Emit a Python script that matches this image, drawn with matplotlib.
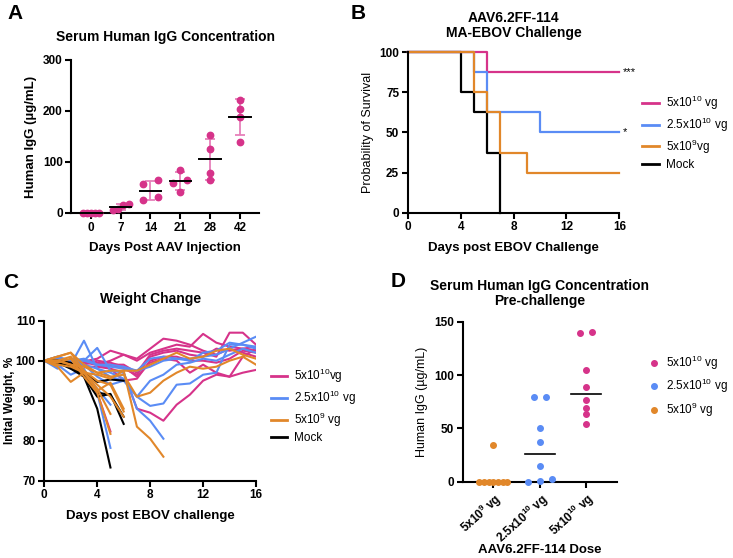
import numpy as np
import matplotlib
matplotlib.use("Agg")
import matplotlib.pyplot as plt
from matplotlib.lines import Line2D

plt.rcParams['font.family'] = ['Liberation Sans', 'DejaVu Sans']
plt.rcParams['mathtext.default'] = 'regular'
plt.rcParams['axes.linewidth'] = 1.5
plt.rcParams['xtick.major.width'] = 1.5
plt.rcParams['ytick.major.width'] = 1.5
plt.rcParams['xtick.major.size'] = 4.3
plt.rcParams['ytick.major.size'] = 4.3
plt.rcParams['xtick.major.pad'] = 2
plt.rcParams['ytick.major.pad'] = 2
plt.rcParams['xtick.labelsize'] = 8.5
plt.rcParams['ytick.labelsize'] = 8.5

PINK = '#D6338A'
PINK_LIGHT = '#E680BA'
BLUE = '#5A8CF5'
ORANGE = '#E1872A'
BLACK = '#000000'

# ---- panel A data
a_days = ['0', '7', '14', '21', '28', '42']
a_vals = [
    [0, 0, 0, 0, 0],
    [5, 17, 8.5, 15],
    [56, 25, 64, 31],
    [64, 85, 41, 59],
    [152, 125, 79, 64],
    [221, 203, 189, 139],
]

# ---- panel B data (survival %)
surv_pink_t = [0, 6, 16]
surv_pink = [100, 87.5, 87.5]
surv_blue_t = [0, 5, 6, 10, 16]
surv_blue = [100, 87.5, 62.5, 50, 50]
surv_orange_t = [0, 5, 6, 7, 9, 16]
surv_orange = [100, 75, 62.5, 37.5, 25, 25]
surv_mock_t = [0, 4, 5, 6, 7]
surv_mock = [100, 75, 62.5, 37.5, 0]

# ---- panel C data (weight % per mouse, day 0..)
w_pink = [
    [100, 100, 99.5, 99.8, 100.5, 102.5, 101.5, 100.5, 103, 105.5, 105, 104, 102.5, 101.5, 103, 102, 101],
    [100, 99, 100, 100, 99, 100, 101.5, 100, 102, 103, 104, 103.5, 106.7, 104.5, 103.5, 103, 102.5],
    [100, 100, 99, 99.5, 99, 98, 97, 88, 87, 85, 89, 91.5, 95, 96.5, 96, 101, 103],
    [100, 99.5, 100, 99, 100, 99.5, 98.5, 96, 99.5, 100.5, 100, 97, 99, 97, 96, 97, 97.7],
    [100, 100.5, 100, 100, 99.5, 99, 99, 97, 101.5, 102.5, 103, 102.5, 102, 101, 107, 107, 104],
    [100, 100, 99.5, 100, 99, 99, 98, 96.5, 101, 102, 102.5, 101.5, 101, 103, 102.5, 103, 103.5],
    [100, 99.5, 99.5, 98.5, 98.5, 98, 95, 95.5, 100, 101, 101, 100, 100, 99.5, 100.5, 102.5, 102],
    [100, 99.5, 100, 97, 92, 82.3],
]
w_blue = [
    [100, 101, 99, 105, 98, 97, 95.5, 91, 88.7, 89.3, 94, 94.3, 96.5, 97, 104, 104, 103.5],
    [100, 98, 100.5, 100, 103.2, 97.5, 97, 88, 85, 80.5],
    [100, 99, 96.5, 98, 92, 78.2],
    [100, 100, 98, 97, 93, 89],
    [100, 101, 100, 100.5, 99, 98.5, 98, 97.5, 98.5, 100, 100.5, 100.5, 101, 101.5, 103, 104.5, 106],
    [100, 99.5, 98.5, 99, 98, 96, 95, 91, 95, 96.5, 99, 99.5, 100.5, 100, 101.5, 103, 102],
    [100, 100.5, 100, 99, 96, 94, 95],
    [100, 99, 99.5, 100, 99, 99, 98.5, 97.5, 100.5, 101, 100.5, 100, 102, 102.5, 104.5, 104, 103],
]
w_orange = [
    [100, 101, 102, 99, 97, 96, 96.5, 91, 92, 95, 97, 98.5, 98, 98.5, 100, 101, 99],
    [100, 100, 99, 98.5, 97, 97.5, 97.5, 97.5, 99, 100.5, 102, 100.5, 101, 102.5, 103, 101.5, 100.5],
    [100, 98.5, 94.7, 97, 96.5, 95.5, 97.5, 83.5, 80.5, 76],
    [100, 100, 101, 97, 93, 86.7],
    [100, 99.5, 100.5, 96, 92, 81.7],
    [100, 101, 102, 97.5, 95, 94, 87.3],
    [100, 100, 99, 97, 92.5, 94.5, 88],
    [100, 99, 98.5, 97, 94, 91, 86],
]
w_mock = [
    [100, 99.5, 98, 96, 88, 73.3],
    [100, 100, 98.5, 97, 94.7, 95.3, 95],
    [100, 99.5, 99, 96, 91, 91.7, 84.2],
    [100, 100, 99, 97, 92, 91.5, 86],
    [100, 99.5, 98.5, 96.5],
    [100, 100, 99.5, 97],
]

# ---- panel D data
d_groups = ['5x10$^9$ vg', '2.5x10$^{10}$ vg', '5x10$^{10}$ vg']
d_orange = [34.4, 0, 0, 0, 0, 0, 0, 0]
d_blue = [79.4, 79.4, 50, 37.2, 14.7, 0, 2.2, 0.6]
d_pink = [139.1, 140.3, 105, 88.75, 76.25, 68.75, 63.1, 54.1]


def swarm(vals, thr, step, half):
    vals = np.asarray(vals, dtype=float)
    order = np.argsort(vals, kind='stable')
    offs = np.zeros(len(vals))
    groups = []
    cur = [order[0]]
    for i in order[1:]:
        if vals[i] - vals[cur[-1]] <= thr:
            cur.append(i)
        else:
            groups.append(cur)
            cur = [i]
    groups.append(cur)
    for g in groups:
        n = len(g)
        if n > 1:
            s = min(step, 2 * half / (n - 1))
            for k, i in enumerate(g):
                offs[i] = (k - (n - 1) / 2) * s
    return offs


def prism(ax):
    ax.spines['top'].set_visible(False)
    ax.spines['right'].set_visible(False)
    for t in ax.get_xticklabels() + ax.get_yticklabels():
        t.set_fontweight('bold')


fig = plt.figure(figsize=(7.33, 5.58), dpi=100)

# ================= A
axA = fig.add_axes([0.0975, 0.6183, 0.2555, 0.2742])
for i, v in enumerate(a_vals):
    v = np.array(v, dtype=float)
    m = v.mean()
    sd = v.std(ddof=1)
    axA.errorbar(i, m, yerr=sd, fmt='none', ecolor=PINK_LIGHT, elinewidth=1.3,
                 capsize=3.5, capthick=1.3, zorder=2, clip_on=False)
    xo = i + swarm(v, 10, 0.47, 0.27)
    axA.plot(xo, v, 'o', color=PINK, markersize=4.6, zorder=3, clip_on=False)
    axA.plot([i - 0.36, i + 0.36], [m, m], color=BLACK, lw=1.4, zorder=4, clip_on=False)
axA.set_xlim(-0.65, 5.63)
axA.set_ylim(0, 300)
axA.set_yticks([0, 100, 200, 300])
axA.set_xticks(range(len(a_days)))
axA.set_xticklabels(a_days)
axA.set_ylabel('Human IgG (µg/mL)', fontsize=9.5, fontweight='bold')
axA.set_xlabel('Days Post AAV Injection', fontsize=9.5, fontweight='bold', labelpad=6)
axA.set_title('Serum Human IgG Concentration', fontsize=10, fontweight='bold', pad=14)
prism(axA)

# ================= B
axB = fig.add_axes([0.5566, 0.6188, 0.2883, 0.2875])
axB.plot(surv_mock_t, surv_mock, drawstyle='steps-post', color=BLACK, lw=1.6, clip_on=False)
axB.plot(surv_pink_t, surv_pink, drawstyle='steps-post', color=PINK, lw=1.6, clip_on=False)
axB.plot(surv_blue_t, surv_blue, drawstyle='steps-post', color=BLUE, lw=1.6, clip_on=False)
axB.plot(surv_orange_t, surv_orange, drawstyle='steps-post', color=ORANGE, lw=1.6, clip_on=False)
axB.text(16.3, surv_pink[-1], '***', fontsize=8, va='center')
axB.text(16.3, surv_blue[-1], '*', fontsize=8, va='center')
axB.set_xlim(0, 16)
axB.set_ylim(0, 100)
axB.set_xticks([0, 4, 8, 12, 16])
axB.set_yticks([0, 25, 50, 75, 100])
axB.set_ylabel('Probability of Survival', fontsize=9)
axB.set_xlabel('Days post EBOV Challenge', fontsize=9.5, fontweight='bold', labelpad=6)
axB.set_title('AAV6.2FF-114\nMA-EBOV Challenge', fontsize=10, fontweight='bold', pad=11,
              linespacing=1.1)
prism(axB)
leg_labels = ['5x10$^{10}$ vg', '2.5x10$^{10}$ vg', '5x10$^9$vg', 'Mock']
handles = [Line2D([], [], color=c, lw=2) for c in [PINK, BLUE, ORANGE, BLACK]]
axB.legend(handles, leg_labels, loc='upper left', bbox_to_anchor=(1.085, 0.77), frameon=False,
           prop={'size': 8.5}, handlelength=1.4, handletextpad=0.65,
           labelspacing=0.3, borderaxespad=0)

# ================= C
axC = fig.add_axes([0.0604, 0.1385, 0.2889, 0.2868])
for grp, col in [(w_pink, PINK), (w_blue, BLUE), (w_mock, BLACK), (w_orange, ORANGE)]:
    for w in grp:
        axC.plot(np.arange(len(w)), w, color=col, lw=1.5)
axC.set_xlim(0, 16)
axC.set_ylim(70, 110)
axC.set_xticks([0, 4, 8, 12, 16])
axC.set_yticks([70, 80, 90, 100, 110])
axC.set_ylabel('Inital Weight, %', fontsize=8.5, fontweight='bold')
axC.yaxis.set_label_coords(-0.135, 0.5)
axC.set_xlabel('Days post EBOV challenge', fontsize=9.5, fontweight='bold', labelpad=6)
axC.set_title('Weight Change', fontsize=10, fontweight='bold', pad=13)
prism(axC)
leg_labels_c = ['5x10$^{10}$vg', '2.5x10$^{10}$ vg', '5x10$^9$ vg', 'Mock']
axC.legend(handles, leg_labels_c, loc='upper left', bbox_to_anchor=(1.05, 0.74), frameon=False,
           prop={'size': 8.5}, handlelength=1.3, handletextpad=0.65,
           labelspacing=0.3, borderaxespad=0)

# ================= D
axD = fig.add_axes([0.6312, 0.1367, 0.2105, 0.2868])
for i, (v, col) in enumerate([(d_orange, ORANGE), (d_blue, BLUE), (d_pink, PINK)]):
    v = np.array(v, dtype=float)
    xo = i + swarm(v, 4, 0.26, 0.30)
    axD.plot(xo, v, 'o', color=col, markersize=4, zorder=3, clip_on=False)
    med = np.median(v)
    axD.plot([i - 0.32, i + 0.32], [med, med], color=BLACK, lw=1.2, zorder=2, clip_on=False)
axD.set_xlim(-0.66, 2.66)
axD.set_ylim(0, 150)
axD.set_yticks([0, 50, 100, 150])
axD.set_xticks(range(3))
axD.set_xticklabels(d_groups, rotation=42, ha='right', rotation_mode='anchor')
axD.set_ylabel('Human IgG (µg/mL)', fontsize=9)
axD.set_xlabel('AAV6.2FF-114 Dose', fontsize=9.5, fontweight='bold')
axD.xaxis.set_label_coords(0.5, -0.425)
axD.xaxis.label.set_va('center')
axD.set_title('Serum Human IgG Concentration\nPre-challenge', fontsize=10, fontweight='bold',
              pad=12, linespacing=1.1)
prism(axD)
d_handles = [Line2D([], [], color=c, marker='o', ls='none', markersize=4)
             for c in [PINK, BLUE, ORANGE]]
axD.legend(d_handles, ['5x10$^{10}$ vg', '2.5x10$^{10}$ vg', '5x10$^9$ vg'], loc='upper left',
           bbox_to_anchor=(1.17, 0.83), frameon=False, prop={'size': 8.5},
           handlelength=1.0, handletextpad=0.55, labelspacing=0.45, borderaxespad=0)

# panel letters
for lab, x, y in [('A', 0.010, 0.993), ('B', 0.478, 0.993), ('C', 0.004, 0.510), ('D', 0.533, 0.513)]:
    fig.text(x, y, lab, fontsize=15, fontweight='bold', va='top', ha='left')

fig.savefig('out.png', dpi=100)
